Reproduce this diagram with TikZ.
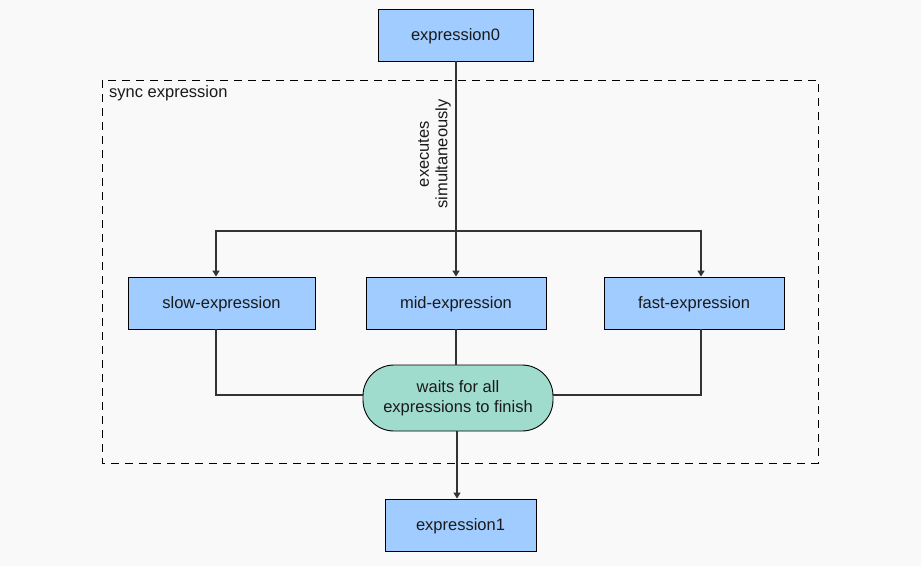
\documentclass[tikz,border=0pt]{standalone}
\usepackage{fontspec}
\setmainfont{Liberation Sans}
\usetikzlibrary{arrows.meta,positioning}
\definecolor{bgc}{HTML}{F9F9F9}
\definecolor{boxblue}{HTML}{A0CCFF}
\definecolor{pillteal}{HTML}{A0DCCD}
\definecolor{linec}{HTML}{333333}
\definecolor{txt}{HTML}{1A1A1A}
\tikzset{
  labelfont/.style={font=\fontsize{16.5}{20}\selectfont, text=txt},
  exprbox/.style={draw=black, line width=0.9pt, fill=boxblue, minimum height=52pt,
    inner sep=0pt, labelfont, text depth=0.5pt},
  waitpill/.style={draw=black, line width=0.9pt, fill=pillteal, rounded corners=31pt,
    minimum width=190pt, minimum height=66pt, align=center, inner sep=0pt, labelfont},
  flow/.style={draw=linec, line width=1.4pt},
  flowarrow/.style={flow, -{Triangle[width=7pt,length=6pt]}},
}
\begin{document}
\begin{tikzpicture}[x=1pt,y=-1pt]
  \fill[bgc] (0,0) rectangle (921,566);
  \useasboundingbox (0,0) rectangle (921,566);

  % sync region
  \draw[black, line width=0.8pt, dash pattern=on 8pt off 6pt] (102,80) rectangle (818,463);
  \node[anchor=west, labelfont, inner sep=0pt] (synclabel) at (109,93) {sync expression};

  % nodes
  \node[exprbox, minimum width=155pt] (e0) at (455.5,35) {expression0};
  \node[exprbox, minimum width=187pt] (slow) at (221.5,303) {slow-expression};
  \node[exprbox, minimum width=180pt] (mid) at (456,303) {mid-expression};
  \node[exprbox, minimum width=180pt] (fast) at (694,303) {fast-expression};
  \node[waitpill] (wait) at (458,398) {waits for all\\expressions to finish};
  \node[exprbox, minimum width=151pt] (e1) at (460.5,525) {expression1};

  % fan-out
  \coordinate (split) at (456,231);
  \coordinate (lsplit) at (216,231);
  \coordinate (rsplit) at (701,231);
  \draw[flowarrow] (e0.south -| split) -- (split) -- (mid.north -| split);
  \draw[flowarrow] (split) -- (lsplit) -- (lsplit |- slow.north);
  \draw[flowarrow] (split) -- (rsplit) -- (rsplit |- fast.north);
  \node[rotate=90, anchor=south, align=center, inner sep=0pt,
        font=\fontsize{16.5}{18.5}\selectfont, text=txt] (execlabel) at (451,154)
        {executes\\simultaneously};

  % join
  \coordinate (ljoin) at (216,395);
  \coordinate (rjoin) at (701,395);
  \coordinate (down) at (457,431);
  \draw[flow] (ljoin |- slow.south) -- (ljoin) -- (ljoin -| wait.west);
  \draw[flow] (rjoin |- fast.south) -- (rjoin) -- (rjoin -| wait.east);
  \draw[flow] (mid.south) -- (mid.south |- wait.north);
  \draw[flowarrow] (down |- wait.south) -- (down |- e1.north);
\end{tikzpicture}
\end{document}
